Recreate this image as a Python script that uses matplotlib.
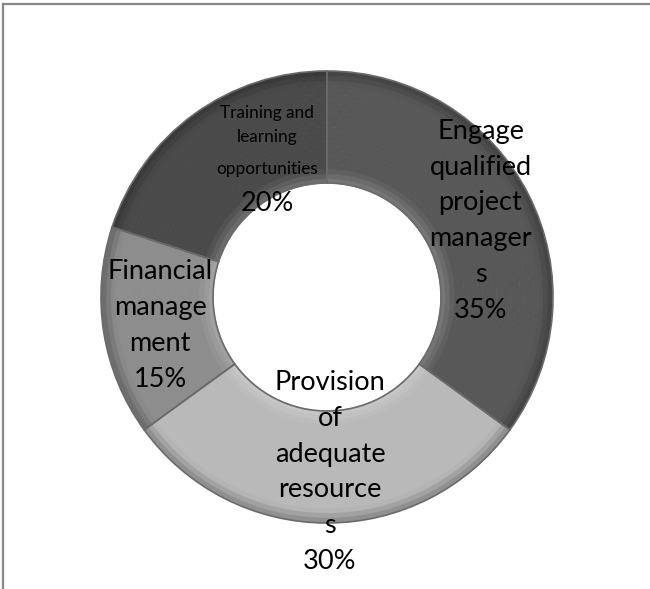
import numpy as np
import matplotlib
matplotlib.use('Agg')
import matplotlib.pyplot as plt
from matplotlib.lines import Line2D
from matplotlib.colors import to_rgb

plt.rcParams['font.family'] = ['Lato', 'DejaVu Sans']

# donut data, clockwise from 12 o'clock
names = ['Engage\nqualified\nproject\nmanager\ns',
         'Provision\nof\nadequate\nresource\ns',
         'Financial\nmanage\nment',
         'Training and\nlearning\nopportunities']
shares = [35, 30, 15, 20]
colours = ['#585858', '#b9b9b9', '#8d8d8d', '#4a4a4a']
small_name = [False, False, False, True]

# label nudges from the ring midpoint, in pixels (right, up)
label_shift = [(2, -1), (3, -5), (1, -2), (40, 0)]

W, H = 650, 589
cx, cy = 327, H - 297
R_out, R_in = 226, 114


def blend(c, other, f):
    c = np.array(to_rgb(c))
    o = np.array(to_rgb(other))
    return tuple(c * (1 - f) + o * f)


fig = plt.figure(figsize=(W / 100, H / 100), dpi=100)
ax = fig.add_axes([0, 0, 1, 1])

# body of the ring, built up in thin bands for a soft bevel
nb = 24
ring = R_out - R_in
for i in range(nb):
    t = i / (nb - 1)               # 0 at hole, 1 at rim
    r = R_in + ring * (i + 1) / nb
    if t < 0.12:
        cols = [blend(c, 'white', 0.18 * (1 - t / 0.12)) for c in colours]
    elif t > 0.9:
        cols = [blend(c, 'black', 0.22 * (t - 0.9) / 0.1) for c in colours]
    else:
        cols = colours
    ax.pie(shares, colors=cols, startangle=90, counterclock=False,
           center=(cx, cy), radius=r,
           wedgeprops=dict(width=ring / nb + 0.6, linewidth=0))

# slice borders
borders, _ = ax.pie(shares, startangle=90, counterclock=False,
                    center=(cx, cy), radius=R_out,
                    wedgeprops=dict(width=ring, linewidth=1.2,
                                    edgecolor='#6a6a6a'))
for w in borders:
    w.set_facecolor('none')

# labels at the middle of each ring segment
mid_r = (R_out + R_in) / 2
start = 90.0
for name, s, small, (dx, dy) in zip(names, shares, small_name, label_shift):
    ang = np.deg2rad(start - s / 100 * 360 / 2)
    start -= s / 100 * 360
    x = cx + mid_r * np.cos(ang) + dx
    y = cy + mid_r * np.sin(ang) + dy
    if small:
        head, last = name.rsplit('\n', 1)
        ax.text(x, y + 34, head, ha='center', va='center',
                fontsize=12.4, linespacing=1.62, color='black')
        ax.text(x, y - 10, last, ha='center', va='center',
                fontsize=12.4, color='black')
        ax.text(x, y - 44, f'{s}%', ha='center', va='center',
                fontsize=19.5, color='black')
    else:
        ax.text(x, y, name + f'\n{s}%', ha='center', va='center',
                fontsize=19.5, linespacing=1.54, color='black')

ax.set_xlim(0, W)
ax.set_ylim(0, H)
ax.set_aspect('auto')
ax.axis('off')

# outer frame (top and left edges)
fig.add_artist(Line2D([3 / W, 1], [1 - 3.5 / H, 1 - 3.5 / H],
                      transform=fig.transFigure, color='#888888', lw=1.6))
fig.add_artist(Line2D([3 / W, 3 / W], [0, 1 - 3.5 / H],
                      transform=fig.transFigure, color='#888888', lw=1.6))

fig.savefig('out.png', dpi=100, facecolor='white')
